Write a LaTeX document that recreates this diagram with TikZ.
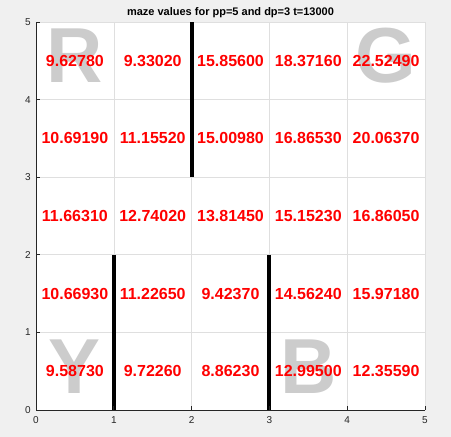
\documentclass[tikz,border=0pt]{standalone}
\usepackage{fontspec}
\setmainfont{Liberation Sans}
\usetikzlibrary{calc}
\definecolor{bgc}{HTML}{F0F0F0}
\definecolor{gridc}{HTML}{DFDFDF}
\definecolor{axc}{HTML}{262626}
\definecolor{letc}{HTML}{CCCCCC}
\definecolor{valc}{HTML}{FF0000}
\tikzset{
  val/.style={text=valc, font=\fontsize{16}{16}\selectfont\bfseries, inner sep=0pt, anchor=center},
  bigletter/.style={text=letc, font=\fontsize{78}{78}\selectfont\bfseries, inner sep=0pt, anchor=base},
  ticklab/.style={text=axc, font=\fontsize{10}{10}\selectfont, inner sep=0pt},
  wall/.style={line width=4pt, black},
  gridline/.style={gridc, line width=0.6pt},
  axisline/.style={axc, line width=0.7pt},
}
\begin{document}
\begin{tikzpicture}[x=1pt,y=1pt]
\useasboundingbox (0,0) rectangle (451,437);
\fill[bgc] (0,0) rectangle (451,437);
\node[text=black, font=\fontsize{11}{11}\selectfont\bfseries, inner sep=0pt] (title) at (230.5,424) {maze values for pp=5 and dp=3 t=13000};
\begin{scope}[shift={(36,27)}, x=77.8pt, y=77.6pt]
  \fill[white] (0,0) rectangle (5,5);
  \foreach \i in {1,...,5} {
    \draw[gridline] (\i,0) -- (\i,5);
    \draw[gridline] (0,\i) -- (5,\i);
  }
  % big letters
  \node[bigletter] (R) at ($(0.5,4.5)+(0,-22pt)$) {R};
  \node[bigletter] (G) at ($(4.5,4.5)+(0,-22pt)$) {G};
  \node[bigletter] (Y) at ($(0.5,0.5)+(0,-22pt)$) {Y};
  \node[bigletter] (B) at ($(3.5,0.5)+(0,-22pt)$) {B};
  % values
  \node[val] (v04) at (0.5,4.5) {9.62780};
  \node[val] (v14) at (1.5,4.5) {9.33020};
  \node[val] (v24) at (2.5,4.5) {15.85600};
  \node[val] (v34) at (3.5,4.5) {18.37160};
  \node[val] (v44) at (4.5,4.5) {22.52490};
  \node[val] (v03) at (0.5,3.5) {10.69190};
  \node[val] (v13) at (1.5,3.5) {11.15520};
  \node[val] (v23) at (2.5,3.5) {15.00980};
  \node[val] (v33) at (3.5,3.5) {16.86530};
  \node[val] (v43) at (4.5,3.5) {20.06370};
  \node[val] (v02) at (0.5,2.5) {11.66310};
  \node[val] (v12) at (1.5,2.5) {12.74020};
  \node[val] (v22) at (2.5,2.5) {13.81450};
  \node[val] (v32) at (3.5,2.5) {15.15230};
  \node[val] (v42) at (4.5,2.5) {16.86050};
  \node[val] (v01) at (0.5,1.5) {10.66930};
  \node[val] (v11) at (1.5,1.5) {11.22650};
  \node[val] (v21) at (2.5,1.5) {9.42370};
  \node[val] (v31) at (3.5,1.5) {14.56240};
  \node[val] (v41) at (4.5,1.5) {15.97180};
  \node[val] (v00) at (0.5,0.5) {9.58730};
  \node[val] (v10) at (1.5,0.5) {9.72260};
  \node[val] (v20) at (2.5,0.5) {8.86230};
  \node[val] (v30) at (3.5,0.5) {12.99500};
  \node[val] (v40) at (4.5,0.5) {12.35590};
  % walls
  \coordinate (w1a) at (2,3); \coordinate (w1b) at (2,5);
  \coordinate (w2a) at (1,0); \coordinate (w2b) at (1,2);
  \coordinate (w3a) at (3,0); \coordinate (w3b) at (3,2);
  \draw[wall] (w1a) -- (w1b);
  \draw[wall] (w2a) -- (w2b);
  \draw[wall] (w3a) -- (w3b);
  % axes
  \coordinate (o) at (0,0);
  \coordinate (xe) at (5,0);
  \coordinate (ye) at (0,5);
  \draw[axisline] (xe) -- (o) -- (ye);
  \foreach \i in {0,...,5} {
    \draw[axisline] (\i,0) -- ++(0,4pt);
    \draw[axisline] (0,\i) -- ++(4pt,0);
    \node[ticklab, anchor=north] (xt\i) at ($(\i,0)+(0,-6pt)$) {\i};
    \node[ticklab, anchor=east] (yt\i) at ($(0,\i)+(-5pt,0)$) {\i};
  }
\end{scope}
\end{tikzpicture}
\end{document}
